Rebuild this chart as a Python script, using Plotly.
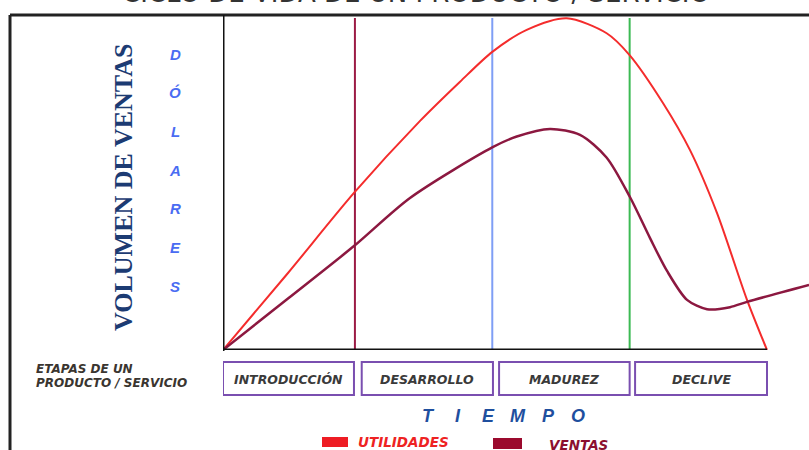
import plotly.graph_objects as go

W, H = 809, 450

# ---------------- data ----------------
time_util = [0, 0.478, 0.963, 1.449, 1.743, 1.980, 2.233, 2.527, 2.821, 2.988, 3.235, 3.434, 3.632, 3.853, 4.0]
utilidades = [0, 23.2, 47.3, 69.0, 80.8, 89.8, 96.4, 99.9, 95.4, 88.9, 74.4, 60.2, 41.3, 15.1, 0]

time_ventas = [0, 0.478, 0.963, 1.375, 1.983, 2.160, 2.404, 2.625, 2.820, 2.993, 3.140, 3.265, 3.412, 3.559, 3.728, 3.853, 4.309]
ventas = [0, 15.5, 31.3, 45.8, 61.1, 64.3, 66.6, 64.8, 58.0, 46.0, 33.7, 23.8, 15.1, 12.3, 12.9, 14.5, 19.6]

stage_lines = [0.97, 1.98, 2.99]
stage_line_colors = ["#9b1b45", "#7f9ef5", "#3cba54"]
stage_names = ["INTRODUCCIÓN", "DESARROLLO", "MADUREZ", "DECLIVE"]
stage_box_starts = [0.0, 1.02, 2.03, 3.03]
stage_box_ends = [0.963, 1.985, 2.99, 4.0]

title_text = "CICLO DE VIDA DE UN PRODUCTO / SERVICIO"
ylabel_text = "VOLUMEN DE VENTAS"
dollars_letters = list("DÓLARES")
time_letters = list("TIEMPO")
etapas_lines = ["ETAPAS DE UN", "PRODUCTO / SERVICIO"]
legend_names = ["UTILIDADES", "VENTAS"]

RED = "#f42c2c"
MAROON = "#8c1840"

def px(x):
    return x / W

def py(y):
    return 1 - y / H

fig = go.Figure()
fig.add_trace(go.Scatter(x=time_util, y=utilidades, mode="lines", name=legend_names[0],
                         line=dict(color=RED, width=2, shape="spline", smoothing=0.8),
                         showlegend=False, hoverinfo="skip"))
fig.add_trace(go.Scatter(x=time_ventas, y=ventas, mode="lines", name=legend_names[1],
                         line=dict(color=MAROON, width=2.5, shape="spline", smoothing=0.8),
                         showlegend=False, hoverinfo="skip"))

shapes = []
# outer frame
shapes.append(dict(type="line", xref="paper", yref="paper", x0=px(10), x1=1.01, y0=py(15), y1=py(15),
                   line=dict(color="#222", width=3)))
shapes.append(dict(type="line", xref="paper", yref="paper", x0=px(10), x1=px(10), y0=py(15), y1=-0.01,
                   line=dict(color="#222", width=3)))
# axes
shapes.append(dict(type="line", xref="x", yref="paper", x0=0, x1=0, y0=py(351), y1=py(15),
                   line=dict(color="#111", width=3)))
shapes.append(dict(type="line", xref="x", yref="y", x0=0, x1=4.0, y0=0, y1=0,
                   line=dict(color="#111", width=3)))
# stage lines
for xv, c in zip(stage_lines, stage_line_colors):
    shapes.append(dict(type="line", xref="x", yref="paper", x0=xv, x1=xv, y0=py(350), y1=py(18),
                       line=dict(color=c, width=2), layer="below"))
# stage boxes
for a, b in zip(stage_box_starts, stage_box_ends):
    shapes.append(dict(type="rect", xref="x", yref="paper", x0=a, x1=b, y0=py(395), y1=py(362),
                       line=dict(color="#7a4fb0", width=2)))
# legend swatches
shapes.append(dict(type="rect", xref="paper", yref="paper", x0=px(322), x1=px(348), y0=py(447), y1=py(437),
                   fillcolor="#ee1c24", line=dict(width=0)))
shapes.append(dict(type="rect", xref="paper", yref="paper", x0=px(493), x1=px(522), y0=py(449), y1=py(438),
                   fillcolor="#9b0a2e", line=dict(width=0)))

ann = []
ann.append(dict(text=title_text, x=px(416), y=py(-7), xref="paper", yref="paper", showarrow=False,
                font=dict(family="DejaVu Sans", size=26, color="#333"), xanchor="center", yanchor="middle"))
ann.append(dict(text="<b>" + ylabel_text + "</b>", x=px(123), y=py(188), xref="paper", yref="paper",
                showarrow=False, textangle=-90, xanchor="center", yanchor="middle",
                font=dict(family="Liberation Serif", size=26, color="#1c3b73")))
for i, ch in enumerate(dollars_letters):
    ann.append(dict(text="<b><i>" + ch + "</i></b>", x=px(175), y=py(54 + i * 38.7), xref="paper", yref="paper",
                    showarrow=False, xanchor="center", yanchor="middle",
                    font=dict(family="Liberation Sans", size=15, color="#4a6cf2")))
for i, ln in enumerate(etapas_lines):
    ann.append(dict(text="<b><i>" + ln + "</i></b>", x=px(34), y=py(369 + i * 14), xref="paper", yref="paper",
                    xanchor="left", yanchor="middle", showarrow=False,
                    font=dict(family="DejaVu Sans", size=12, color="#3a3530")))
for name, a, b in zip(stage_names, stage_box_starts, stage_box_ends):
    ann.append(dict(text="<b><i>" + name + "</i></b>", x=(a + b) / 2, y=py(379), xref="x", yref="paper",
                    xanchor="center", yanchor="middle", showarrow=False,
                    font=dict(family="DejaVu Sans", size=12.5, color="#3a3a3a")))
for i, ch in enumerate(time_letters):
    ann.append(dict(text="<b><i>" + ch + "</i></b>", x=px(428 + i * 30), y=py(416), xref="paper", yref="paper",
                    xanchor="center", yanchor="middle", showarrow=False,
                    font=dict(family="Liberation Sans", size=18, color="#1f4f9e")))
ann.append(dict(text="<b><i>" + legend_names[0] + "</i></b>", x=px(356), y=py(442), xref="paper", yref="paper",
                xanchor="left", yanchor="middle", showarrow=False,
                font=dict(family="DejaVu Sans", size=13.5, color="#ee2222")))
ann.append(dict(text="<b><i>" + legend_names[1] + "</i></b>", x=px(547), y=py(445), xref="paper", yref="paper",
                xanchor="left", yanchor="middle", showarrow=False,
                font=dict(family="DejaVu Sans", size=13.5, color="#8b1030")))

fig.update_layout(
    width=W, height=H,
    margin=dict(l=0, r=0, t=0, b=0),
    paper_bgcolor="white", plot_bgcolor="white",
    xaxis=dict(domain=[px(223), 1], range=[0, 586 / 136], visible=False, fixedrange=True),
    yaxis=dict(domain=[py(350), 1], range=[0, 350 / 3.32], visible=False, fixedrange=True),
    shapes=shapes, annotations=ann, showlegend=False,
)

fig.write_html("out.html", config={"displayModeBar": False},
               post_script="document.body.style.margin='0';document.body.style.padding='0';")
